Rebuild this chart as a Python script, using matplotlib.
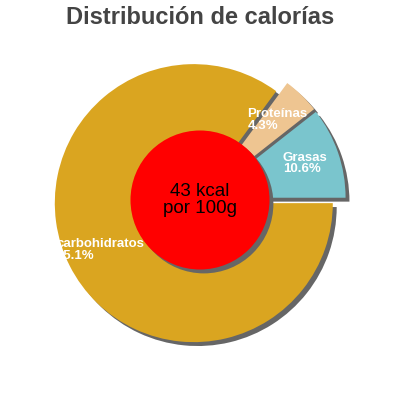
import matplotlib
matplotlib.use('Agg')
import matplotlib.pyplot as plt
from matplotlib.patches import Circle

plt.rcParams['font.family'] = ['Liberation Sans', 'DejaVu Sans']

# Datos
categorias = ['Grasas', 'Proteínas', 'carbohidratos']
porcentajes = [10.6, 4.3, 85.1]
colores = ['#7ac5cd', '#eec591', '#daa520']
titulo = 'Distribución de calorías'
texto_centro = '43 kcal\npor 100g'

fig = plt.figure(figsize=(4, 4), dpi=100)
ax = fig.add_axes([0, 0, 1, 1])
lim = 200 / 139

explode = [0.05] * len(porcentajes)
sombra = 0.028

# sombra
ax.pie(porcentajes, explode=explode, colors=['#666666'] * 3, startangle=0,
       counterclock=True, center=(sombra, -sombra), frame=True,
       wedgeprops=dict(linewidth=0))

wedges, textos, autotextos = ax.pie(
    porcentajes, explode=explode, colors=colores, startangle=0,
    counterclock=True, frame=True, pctdistance=0.75,
    autopct=lambda p: '',
    wedgeprops=dict(linewidth=0))
ax.set_xlim(-lim, lim)
ax.set_ylim(-lim, lim)
ax.set_aspect('equal')
ax.axis('off')

for t, cat, p in zip(autotextos, categorias, porcentajes):
    t.set_text(f'{cat}\n{p:.1f}%')
    t.set_color('white')
    t.set_fontsize(9.5)
    t.set_fontweight('bold')
    t.set_ha('center')
    t.set_va('center')
    t.set_multialignment('left')
    t.set_linespacing(0.95)

ax.add_patch(Circle((sombra, -sombra), 0.5, color='#666666', lw=0, zorder=3))
ax.add_patch(Circle((0, 0), 0.5, color='#ff0000', lw=0, zorder=4))
ax.text(0, 0, texto_centro, ha='center', va='center', fontsize=13.5,
        color='black', zorder=5, linespacing=0.95)

fig.text(0.5, 1 - 17 / 400, titulo, ha='center', va='center',
         fontsize=17, fontweight='bold', color='#444444')

fig.savefig('out.png', dpi=100)
